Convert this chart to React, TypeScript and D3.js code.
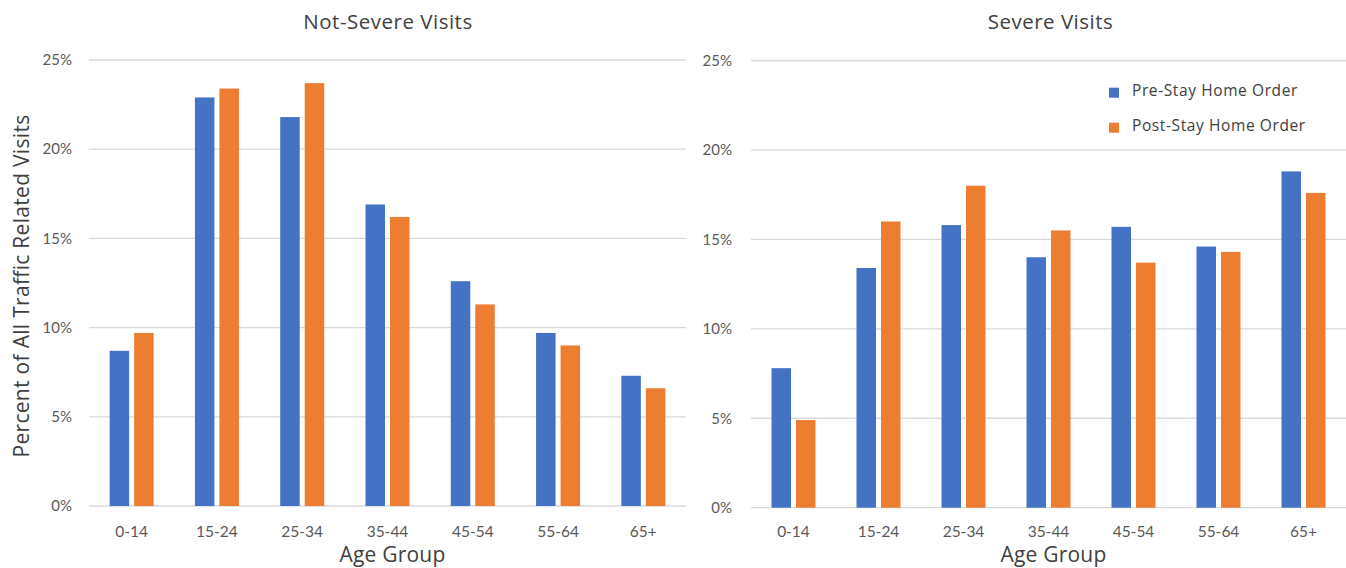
import React from "react";
import * as d3 from "d3";

// Age groups shown on both panels
const categories = ["0-14", "15-24", "25-34", "35-44", "45-54", "55-64", "65+"];

// Percent of all traffic related visits, by age group
const notSeverePre = [8.7, 22.9, 21.8, 16.9, 12.6, 9.7, 7.3];
const notSeverePost = [9.7, 23.4, 23.7, 16.2, 11.3, 9.0, 6.6];
const severePre = [7.8, 13.4, 15.8, 14.0, 15.7, 14.6, 18.8];
const severePost = [4.9, 16.0, 18.0, 15.5, 13.7, 14.3, 17.6];

const seriesNames = ["Pre-Stay Home Order", "Post-Stay Home Order"];
const yTicks = [0, 5, 10, 15, 20, 25];

const W = 1346;
const H = 568;
const TICK_FONT = "Lato, 'Open Sans', sans-serif";
const LABEL_FONT = "'Open Sans', Lato, sans-serif";
const COLORS = ["#4472C4", "#ED7D31"];
const TEXT = "#404040";
const TICK_TEXT = "#595959";
const GRID = "#d9d9d9";

type PanelProps = {
  title: string;
  pre: number[];
  post: number[];
  x0: number;
  x1: number;
  yBottom: number;
  yTop: number;
  tickRight: number;
  titleX: number;
};

function Panel({ title, pre, post, x0, x1, yBottom, yTop, tickRight, titleX }: PanelProps) {
  const x = d3.scaleBand<string>().domain(categories).range([x0, x1]).padding(0);
  const groupWidth = 44;
  const xs = d3
    .scaleBand<string>()
    .domain(seriesNames)
    .range([0, groupWidth])
    .paddingInner(0.204)
    .paddingOuter(0);
  const y = d3.scaleLinear().domain([0, 25]).range([yBottom, yTop]);
  const series = [pre, post];

  return (
    <g>
      <text
        x={titleX}
        y={29}
        textAnchor="middle"
        fontFamily={LABEL_FONT}
        fontSize={20.5}
        letterSpacing={0.5}
        fill={TEXT}
      >
        {title}
      </text>
      {yTicks.map((t) => (
        <g key={t}>
          <line x1={x0} x2={x1} y1={y(t)} y2={y(t)} stroke={GRID} strokeWidth={1.3} />
          <text
            x={tickRight}
            y={y(t)}
            dy="0.35em"
            textAnchor="end"
            fontFamily={TICK_FONT}
            fontSize={15}
            fill={TICK_TEXT}
          >
            {t}%
          </text>
        </g>
      ))}
      {categories.map((c, i) => {
        const center = (x(c) as number) + x.bandwidth() / 2;
        const gx = center - groupWidth / 2;
        return (
          <g key={c}>
            {series.map((vals, s) => (
              <rect
                key={s}
                x={gx + (xs(seriesNames[s]) as number)}
                y={y(vals[i])}
                width={xs.bandwidth()}
                height={y(0) - y(vals[i])}
                fill={COLORS[s]}
              />
            ))}
            <text
              x={center}
              y={537}
              textAnchor="middle"
              fontFamily={TICK_FONT}
              fontSize={15.5}
              fill={TICK_TEXT}
            >
              {c}
            </text>
          </g>
        );
      })}
      <text
        x={(x0 + x1) / 2 + 5}
        y={562}
        textAnchor="middle"
        fontFamily={LABEL_FONT}
        fontSize={21}
        letterSpacing={0.2}
        fill={TEXT}
      >
        Age Group
      </text>
    </g>
  );
}

export default function App() {
  return (
    <svg
      width={W}
      height={H}
      viewBox={`0 0 ${W} ${H}`}
      style={{ position: "absolute", left: 0, top: 0, background: "#fff" }}
    >
      <rect x={0} y={0} width={W} height={H} fill="#fff" />
      <Panel
        title="Not-Severe Visits"
        pre={notSeverePre}
        post={notSeverePost}
        x0={89}
        x1={686}
        yBottom={506}
        yTop={60}
        tickRight={72}
        titleX={388}
      />
      <Panel
        title="Severe Visits"
        pre={severePre}
        post={severePost}
        x0={751}
        x1={1346}
        yBottom={507.7}
        yTop={60.5}
        tickRight={732}
        titleX={1050.5}
      />
      <text
        transform="translate(28.5,286) rotate(-90)"
        textAnchor="middle"
        fontFamily={LABEL_FONT}
        fontSize={21}
        letterSpacing={0.3}
        fill={TEXT}
      >
        Percent of All Traffic Related Visits
      </text>
      {seriesNames.map((name, i) => (
        <g key={name} transform={`translate(1109, ${87.7 + i * 35})`}>
          <rect x={0} y={0} width={10} height={10} fill={COLORS[i]} />
          <text
            x={23}
            y={8.5}
            fontFamily={LABEL_FONT}
            fontSize={15.5}
            letterSpacing={0.6}
            fill={TEXT}
          >
            {name}
          </text>
        </g>
      ))}
    </svg>
  );
}
